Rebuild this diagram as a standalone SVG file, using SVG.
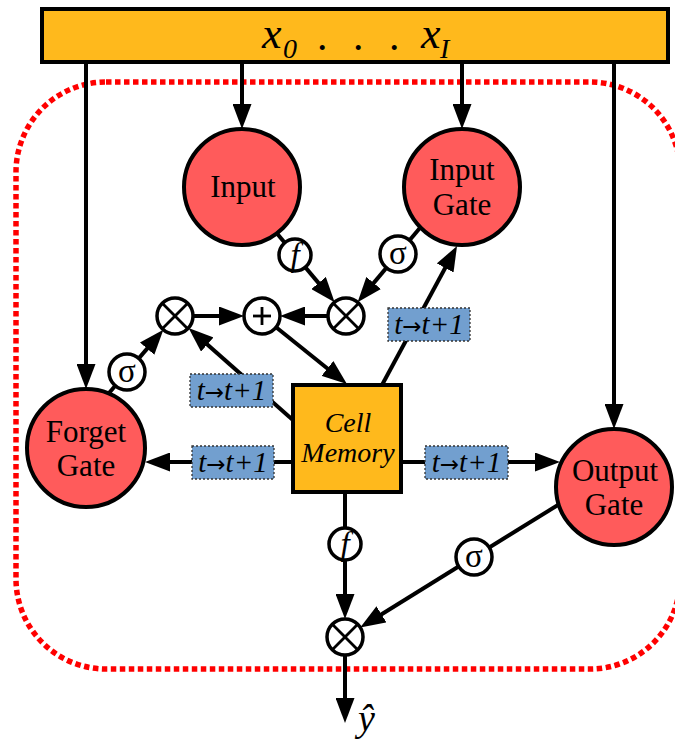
<svg xmlns="http://www.w3.org/2000/svg" width="675" height="743" viewBox="0 0 675 743">
  <style>
    .conn { fill: none; stroke: #000; stroke-width: 4; marker-end: url(#ah); }
    .gate { fill: #ff5b5b; stroke: #000; stroke-width: 4; }
    .op { fill: #fff; stroke: #000; stroke-width: 3.5; }
    .opline { stroke: #000; stroke-width: 2.8; }
    .lbl { font-family: "Liberation Serif", "Times New Roman", serif; font-size: 31px; text-anchor: middle; fill: #000; }
    .it { font-family: "Liberation Serif", "Times New Roman", serif; font-style: italic; fill: #000; }
    .sym { font-family: "Liberation Serif", "DejaVu Serif", serif; font-size: 33px; text-anchor: middle; fill: #000; }
    .tag rect { fill: #729fcf; stroke: #333; stroke-width: 1.3; stroke-dasharray: 2 2; }
    .tag text { font-family: "Liberation Serif", "Times New Roman", serif; font-style: italic; font-size: 29px; text-anchor: middle; fill: #000; }
    .tag tspan.arr { font-style: normal; font-size: 23px; font-family: "DejaVu Sans", "Liberation Serif", sans-serif; }
  </style>
  <defs>
    <marker id="ah" markerUnits="userSpaceOnUse" markerWidth="25" markerHeight="19" refX="6" refY="9.5" orient="auto">
      <path d="M0,0 L25,9.5 L0,19 z" fill="#000"/>
    </marker>
  </defs>

  <!-- boundary of the recurrent cell -->
  <rect id="cell-boundary" x="16" y="82" width="664" height="587" rx="90" ry="90" fill="none" stroke="#ff0000" stroke-width="5.5" stroke-dasharray="5.5 3.5"/>

  <!-- connectors -->
  <g id="connectors">
    <line class="conn" x1="86" y1="62" x2="86" y2="370"/>
    <line class="conn" x1="242" y1="62" x2="242" y2="110"/>
    <line class="conn" x1="462" y1="62" x2="462" y2="110"/>
    <line class="conn" x1="614" y1="62" x2="614" y2="410"/>
    <line class="conn" x1="276.8" y1="233.3" x2="322.4" y2="287.6"/>
    <line class="conn" x1="420.5" y1="227.2" x2="369.8" y2="287.6"/>
    <line class="conn" x1="328" y1="316" x2="299" y2="316"/>
    <line class="conn" x1="193" y1="316" x2="225" y2="316"/>
    <line class="conn" x1="276.1" y1="327.2" x2="332.1" y2="372.2"/>
    <line class="conn" x1="382" y1="385" x2="448" y2="262.7"/>
    <line class="conn" x1="294" y1="421" x2="202.8" y2="340.5"/>
    <line class="conn" x1="293" y1="462" x2="164" y2="462"/>
    <line class="conn" x1="401" y1="462" x2="541" y2="462"/>
    <line class="conn" x1="108.4" y1="393.8" x2="151" y2="344.1"/>
    <line class="conn" x1="345" y1="492" x2="345" y2="600"/>
    <line class="conn" x1="558.4" y1="504.7" x2="376.4" y2="617.5"/>
    <line class="conn" x1="345" y1="655" x2="345" y2="704"/>
  </g>

  <!-- input vector bar -->
  <g id="inputs">
    <rect x="42" y="9" width="626" height="53" fill="#ffb91c" stroke="#000" stroke-width="4"/>
    <text class="it" x="262" y="48" font-size="44">x</text>
    <text class="it" x="283" y="58" font-size="28">0</text>
    <text class="it" x="318" y="50" font-size="42">.</text>
    <text class="it" x="354" y="50" font-size="42">.</text>
    <text class="it" x="390" y="50" font-size="42">.</text>
    <text class="it" x="421" y="48" font-size="44">x</text>
    <text class="it" x="440" y="58" font-size="28">I</text>
  </g>

  <!-- gates -->
  <g id="input-node">
    <circle class="gate" cx="242" cy="187" r="58"/>
    <text class="lbl" x="243" y="197">Input</text>
  </g>
  <g id="input-gate">
    <circle class="gate" cx="462" cy="187" r="58"/>
    <text class="lbl" x="462" y="180">Input</text>
    <text class="lbl" x="462" y="215">Gate</text>
  </g>
  <g id="forget-gate">
    <circle class="gate" cx="86" cy="448" r="59"/>
    <text class="lbl" x="86" y="442">Forget</text>
    <text class="lbl" x="86" y="476">Gate</text>
  </g>
  <g id="output-gate">
    <circle class="gate" cx="614" cy="487" r="58"/>
    <text class="lbl" x="615" y="481">Output</text>
    <text class="lbl" x="614" y="515">Gate</text>
  </g>

  <!-- cell memory -->
  <g id="cell-memory">
    <rect x="293" y="385" width="108" height="107" fill="#ffb91c" stroke="#000" stroke-width="4"/>
    <text class="it" x="348" y="432" font-size="28" text-anchor="middle">Cell</text>
    <text class="it" x="348" y="462" font-size="28" text-anchor="middle">Memory</text>
  </g>

  <!-- activation functions -->
  <g id="f-input">
    <circle class="op" cx="295" cy="255" r="16"/>
    <text class="sym" x="295" y="266" font-style="italic">f</text>
  </g>
  <g id="sigma-input-gate">
    <circle class="op" cx="398" cy="254" r="18"/>
    <text class="sym" x="398" y="264">σ</text>
  </g>
  <g id="sigma-forget">
    <circle class="op" cx="127" cy="372" r="18"/>
    <text class="sym" x="127" y="382">σ</text>
  </g>
  <g id="f-output">
    <circle class="op" cx="345" cy="544" r="16"/>
    <text class="sym" x="345" y="555" font-style="italic">f</text>
  </g>
  <g id="sigma-output">
    <circle class="op" cx="474" cy="557" r="18"/>
    <text class="sym" x="474" y="567">σ</text>
  </g>

  <!-- products and sum -->
  <g id="mul-input">
    <circle class="op" cx="346" cy="316" r="18"/>
    <line class="opline" x1="333.3" y1="303.3" x2="358.7" y2="328.7"/>
    <line class="opline" x1="358.7" y1="303.3" x2="333.3" y2="328.7"/>
  </g>
  <g id="sum">
    <circle class="op" cx="262" cy="316" r="18"/>
    <line class="opline" x1="253" y1="316" x2="271" y2="316"/>
    <line class="opline" x1="262" y1="307" x2="262" y2="325"/>
  </g>
  <g id="mul-forget">
    <circle class="op" cx="175" cy="316" r="18"/>
    <line class="opline" x1="162.3" y1="303.3" x2="187.7" y2="328.7"/>
    <line class="opline" x1="187.7" y1="303.3" x2="162.3" y2="328.7"/>
  </g>
  <g id="mul-output">
    <circle class="op" cx="345" cy="637" r="18"/>
    <line class="opline" x1="332.3" y1="624.3" x2="357.7" y2="649.7"/>
    <line class="opline" x1="357.7" y1="624.3" x2="332.3" y2="649.7"/>
  </g>

  <!-- time-step delays -->
  <g id="delay-input-gate" class="tag">
    <rect x="388" y="308" width="82" height="33"/>
    <text x="429" y="334">t<tspan class="arr">→</tspan>t+1</text>
  </g>
  <g id="delay-mul" class="tag">
    <rect x="190" y="374" width="83" height="33"/>
    <text x="231.5" y="400">t<tspan class="arr">→</tspan>t+1</text>
  </g>
  <g id="delay-forget" class="tag">
    <rect x="192" y="446" width="82" height="33"/>
    <text x="233" y="472">t<tspan class="arr">→</tspan>t+1</text>
  </g>
  <g id="delay-output" class="tag">
    <rect x="425" y="446" width="83" height="33"/>
    <text x="466.5" y="472">t<tspan class="arr">→</tspan>t+1</text>
  </g>

  <!-- output -->
  <g id="y-hat">
    <text class="it" x="358" y="731" font-size="38">ŷ</text>
  </g>
</svg>
